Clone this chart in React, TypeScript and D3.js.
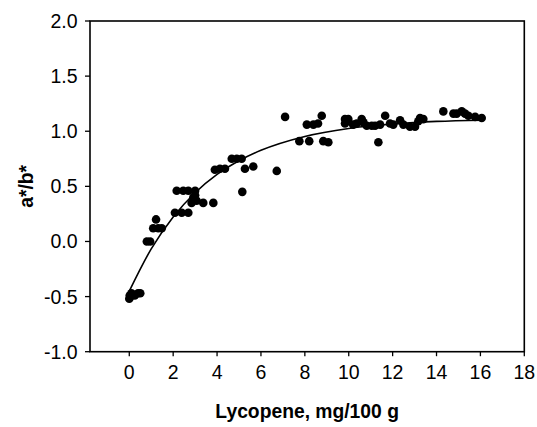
import React from "react";
import * as d3 from "d3";

const lycopene = [
  0.0, 0.02, 0.05, 0.1, 0.25, 0.4, 0.5,
  0.8, 0.95,
  1.22, 1.09, 1.32, 1.48,
  2.16, 2.46, 2.69, 3.0,
  2.08, 2.39, 2.69,
  2.92, 3.07, 2.84, 3.0,
  3.37, 3.83,
  3.9, 4.13, 4.36,
  4.67, 4.9, 5.12,
  5.27, 5.65,
  5.15,
  6.72,
  7.1,
  7.75, 8.2,
  8.09, 8.39, 8.6, 8.77,
  8.84, 9.07,
  9.83, 9.98, 9.83,
  10.2, 10.36, 10.59, 10.67, 10.82,
  11.05, 11.2, 11.43, 11.66, 11.88, 12.03,
  11.35,
  12.34, 12.49, 12.79, 13.02,
  13.17, 13.25, 13.4,
  14.31, 14.77, 14.92, 15.15, 15.3, 15.45, 15.76, 16.06,
];

const ratio = [
  -0.52, -0.49, -0.5, -0.47, -0.49, -0.47, -0.47,
  0.0, 0.0,
  0.2, 0.12, 0.12, 0.12,
  0.46, 0.46, 0.46, 0.46,
  0.26, 0.26, 0.26,
  0.4, 0.37, 0.35, 0.42,
  0.35, 0.35,
  0.65, 0.66, 0.66,
  0.75, 0.75, 0.75,
  0.66, 0.68,
  0.45,
  0.64,
  1.13,
  0.91, 0.91,
  1.06, 1.06, 1.07, 1.14,
  0.91, 0.9,
  1.11, 1.11, 1.07,
  1.06, 1.07, 1.11, 1.08, 1.05,
  1.05, 1.05, 1.06, 1.14, 1.07, 1.06,
  0.9,
  1.1, 1.06, 1.04, 1.04,
  1.09, 1.12, 1.11,
  1.18, 1.16, 1.16, 1.18, 1.16, 1.14, 1.13, 1.12,
];

// fitted trend line
const fitX = [0, 1, 2, 3, 4, 5, 6, 8, 10, 12, 14, 16.1];
const fitY = [-0.45, -0.067, 0.223, 0.442, 0.608, 0.732, 0.827, 0.953, 1.025, 1.065, 1.089, 1.1];

const xTicks = [0, 2, 4, 6, 8, 10, 12, 14, 16, 18];
const yTicks = [-1.0, -0.5, 0.0, 0.5, 1.0, 1.5, 2.0];

const xTitle = "Lycopene, mg/100 g";
const yTitle = "a*/b*";

export default function App() {
  const W = 537;
  const H = 427;
  const left = 90;
  const right = 524.3;
  const top = 21;
  const bottom = 351.7;

  const x = d3.scaleLinear().domain([-1.79, 18]).range([left, right]);
  const y = d3.scaleLinear().domain([-1, 2]).range([bottom, top]);

  const line = d3
    .line<number>()
    .x((_, i) => x(fitX[i]))
    .y((d) => y(d))
    .curve(d3.curveMonotoneX);

  const font = "'Liberation Sans', Arial, Helvetica, sans-serif";

  return (
    <svg
      width={W}
      height={H}
      style={{ position: "absolute", left: 0, top: 0, background: "#fff" }}
      fontFamily={font}
    >
      <rect x={0} y={0} width={W} height={H} fill="#fff" />
      <rect
        x={left}
        y={top}
        width={right - left}
        height={bottom - top}
        fill="none"
        stroke="#000"
        strokeWidth={1.6}
      />
      {yTicks.map((t) => (
        <g key={"y" + t}>
          <line x1={left - 5} x2={left} y1={y(t)} y2={y(t)} stroke="#000" strokeWidth={1.3} />
          <text
            x={77.5}
            y={y(t)}
            dy="0.36em"
            textAnchor="end"
            fontSize={19.5}
            fill="#000"
          >
            {t.toFixed(1)}
          </text>
        </g>
      ))}
      {xTicks.map((t) => (
        <g key={"x" + t}>
          <line x1={x(t)} x2={x(t)} y1={bottom} y2={bottom + 4.5} stroke="#000" strokeWidth={1.3} />
          <text x={x(t)} y={378.5} textAnchor="middle" fontSize={19.5} fill="#000">
            {t}
          </text>
        </g>
      ))}
      <path d={line(fitY) || ""} fill="none" stroke="#000" strokeWidth={1.6} />
      {lycopene.map((v, i) => (
        <circle key={"p" + i} cx={x(v)} cy={y(ratio[i])} r={4.3} fill="#000" />
      ))}
      <text
        x={(left + right) / 2}
        y={417.5}
        textAnchor="middle"
        fontSize={19.3}
        fontWeight="bold"
        fill="#000"
      >
        {xTitle}
      </text>
      <text
        transform={`translate(33, ${(top + bottom) / 2}) rotate(-90)`}
        textAnchor="middle"
        fontSize={19.3}
        fontWeight="bold"
        fill="#000"
      >
        {yTitle}
      </text>
    </svg>
  );
}
